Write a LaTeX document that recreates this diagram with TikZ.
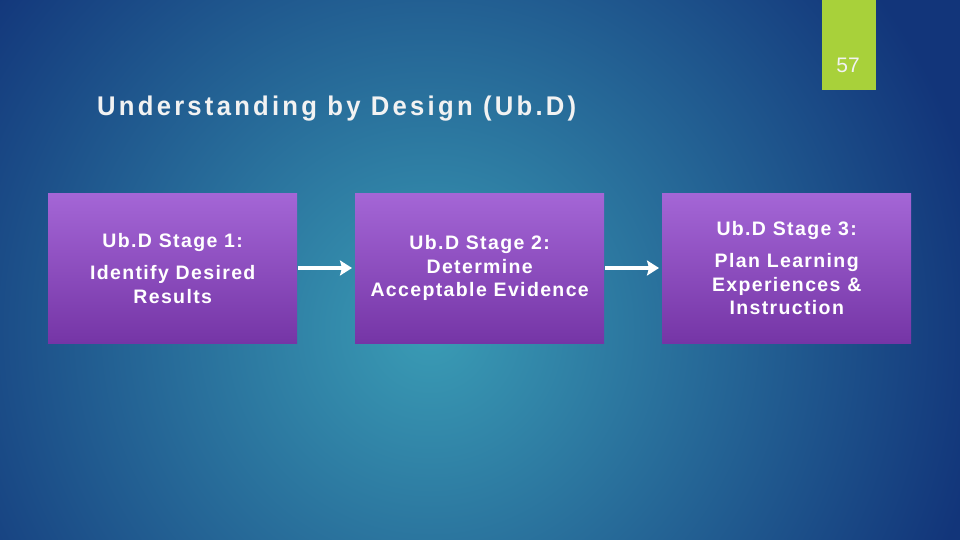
\documentclass[tikz,border=0pt]{standalone}
\usepackage{fontspec}
\setmainfont{Liberation Sans}
\newfontfamily\boxfont[LetterSpace=7]{Liberation Sans}
\newfontfamily\titlefont[LetterSpace=12,FakeStretch=0.95]{Liberation Sans}
\usetikzlibrary{arrows.meta}
\definecolor{navy}{HTML}{12357A}
\definecolor{teal}{HTML}{3A9CB5}
\definecolor{limeg}{HTML}{A8D13A}
\definecolor{boxtop}{HTML}{A466D6}
\definecolor{boxbot}{HTML}{7535A6}
\definecolor{txt}{HTML}{F2F2F2}
\tikzset{
  stagebox/.style={minimum width=249pt, minimum height=150pt, top color=boxtop, bottom color=boxbot, draw=none, inner sep=0pt, anchor=north west, text=white, font=\boxfont\bfseries\fontsize{19.5}{23.5}\selectfont, align=center},
  flow/.style={draw=white, line width=4pt, -{Stealth[length=12pt,width=15pt,inset=2pt]}}
}
\begin{document}
\begin{tikzpicture}[x=1pt,y=-1pt]
\useasboundingbox (0,0) rectangle (960,540);
\fill[navy] (0,0) rectangle (960,540);
\begin{scope}
\clip (0,0) rectangle (960,540);
\shade[inner color=teal, outer color=navy] (430,330) circle (560);
\end{scope}
\fill[limeg] (822,0) rectangle (876,90);
\node[text=txt, font=\fontsize{21}{24}\selectfont] (num) at (848,65) {57};
\node[text=txt, font=\titlefont\bfseries\fontsize{27}{30}\selectfont, anchor=base west, inner sep=0pt] (title) at (97,116) {Understanding by Design (Ub.D)};
\node[stagebox] (s1) at (48,193) {Ub.D Stage 1:\\[9pt]Identify Desired\\Results};
\node[stagebox] (s2) at (355,193) {Ub.D Stage 2:\\Determine\\Acceptable Evidence};
\node[stagebox] (s3) at (662,193) {Ub.D Stage 3:\\[9pt]Plan Learning\\Experiences \&\\Instruction};
\draw[flow] ([xshift=1pt]s1.east |- 0,268) -- ([xshift=-3pt]s2.west |- 0,268);
\draw[flow] ([xshift=1pt]s2.east |- 0,268) -- ([xshift=-3pt]s3.west |- 0,268);
\end{tikzpicture}
\end{document}
